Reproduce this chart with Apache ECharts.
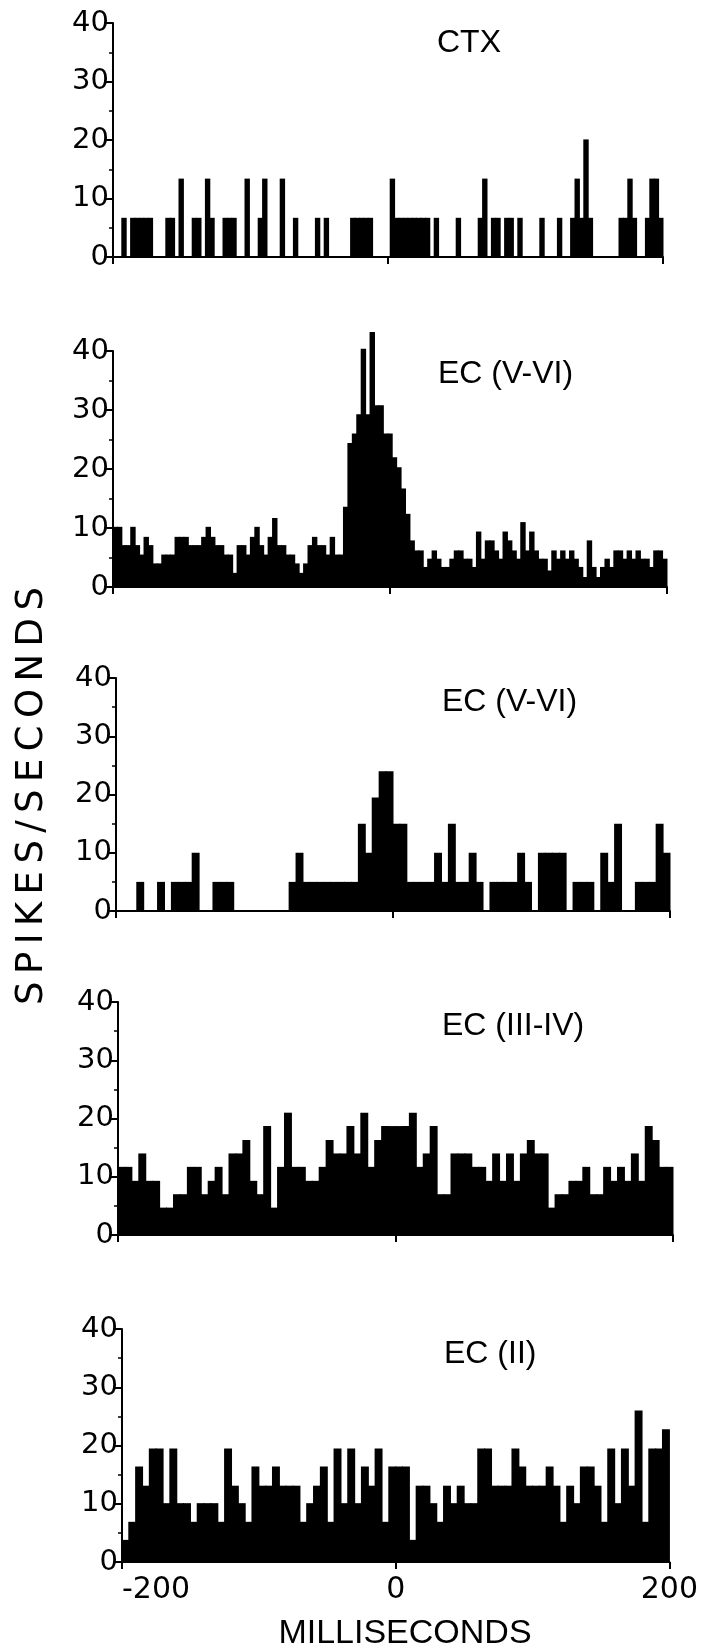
<!DOCTYPE html>
<html>
<head>
<meta charset="utf-8">
<style>
html, body { margin: 0; padding: 0; background: #fff; }
#chart { width: 701px; height: 1648px; }
</style>
<script src="https://cdn.jsdelivr.net/npm/echarts@6/dist/echarts.min.js"></script>
</head>
<body>
<div id="chart"></div>
<script>
var panelTitles = ["CTX", "EC (V-VI)", "EC (V-VI)", "EC (III-IV)", "EC (II)"];
var xTickLabels = ["-200", "0", "200"];
var yTickLabels = ["0", "10", "20", "30", "40"];
var xLabel = "MILLISECONDS";
var yLabel = "S\u2009P\u2009I\u2009K\u2009E\u2009S\u2009/\u2009S\u2009E\u2009C\u2009O\u2009N\u2009D\u2009S";

// spikes/s per bin, 125 bins from -200 to 200 ms
var ctx = [
  0, 0, 6.7, 0, 6.7, 6.7, 6.7, 6.7, 6.7, 0,
  0, 0, 6.7, 6.7, 0, 13.4, 0, 0, 6.7, 6.7,
  0, 13.4, 6.7, 0, 0, 6.7, 6.7, 6.7, 0, 0,
  13.4, 0, 0, 6.7, 13.4, 0, 0, 0, 13.4, 0,
  0, 6.7, 0, 0, 0, 0, 6.7, 0, 6.7, 0,
  0, 0, 0, 0, 6.7, 6.7, 6.7, 6.7, 6.7, 0,
  0, 0, 0, 13.4, 6.7, 6.7, 6.7, 6.7, 6.7, 6.7,
  6.7, 6.7, 0, 6.7, 0, 0, 0, 0, 6.7, 0,
  0, 0, 0, 6.7, 13.4, 0, 6.7, 6.7, 0, 6.7,
  6.7, 0, 6.7, 0, 0, 0, 0, 6.7, 0, 0,
  0, 6.7, 0, 0, 6.7, 13.4, 6.7, 20.1, 6.7, 0,
  0, 0, 0, 0, 0, 6.7, 6.7, 13.4, 6.7, 0,
  0, 6.7, 13.4, 13.4, 6.7
];

// 125 bins
var ecDeepA = [
  10.2, 10.2, 7.1, 7.1, 10.2, 7.1, 5.5, 8.5, 7.1, 4.0,
  4.0, 5.5, 5.5, 5.5, 8.5, 8.5, 8.5, 7.1, 7.1, 7.1,
  8.5, 10.2, 8.5, 7.1, 7.1, 5.5, 5.5, 2.4, 7.1, 7.1,
  5.5, 8.5, 10.2, 7.1, 5.5, 8.5, 11.7, 7.1, 7.1, 5.5,
  5.5, 4.0, 2.4, 4.0, 7.1, 8.5, 7.1, 7.1, 5.5, 8.5,
  5.5, 5.5, 13.6, 24.4, 26, 29.3, 40.4, 29.3, 43.2, 30.8,
  30.8, 26, 26, 22, 20.3, 16.7, 12.4, 7.9, 6.2, 6.2,
  3.4, 4.8, 6.2, 4.8, 3.4, 3.4, 4.8, 6.2, 6.2, 4.8,
  4.8, 3.4, 9.4, 4.8, 7.9, 7.9, 6.2, 4.8, 9.4, 7.9,
  6.2, 4.8, 11, 6.2, 9.4, 6.2, 4.8, 4.8, 2.8, 6.2,
  4.8, 6.2, 4.8, 6.2, 4.8, 3.4, 1.7, 7.9, 3.4, 1.7,
  3.4, 4.8, 3.4, 6.2, 6.2, 4.8, 6.2, 4.8, 6.2, 4.8,
  4.8, 3.4, 6.2, 6.2, 4.8
];

// 80 bins
var ecDeepB = [
  0, 0, 0, 5, 0, 0, 5, 0, 5, 5,
  5, 10, 0, 0, 5, 5, 5, 0, 0, 0,
  0, 0, 0, 0, 0, 5, 10, 5, 5, 5,
  5, 5, 5, 5, 5, 15, 10, 19.5, 24, 24,
  15, 15, 5, 5, 5, 5, 10, 5, 15, 5,
  5, 10, 5, 0, 5, 5, 5, 5, 10, 5,
  0, 10, 10, 10, 10, 0, 5, 5, 5, 0,
  10, 5, 15, 0, 0, 5, 5, 5, 15, 10
];

// 80 bins
var ecMid = [
  11.7, 11.7, 9.3, 14, 9.3, 9.3, 4.7, 4.7, 7, 7,
  11.7, 11.7, 7, 9.3, 11.7, 7, 14, 14, 16.3, 9.3,
  7, 18.7, 4.7, 11.7, 21, 11.7, 11.7, 9.3, 9.3, 11.7,
  16.3, 14, 14, 18.7, 14, 21, 11.7, 16.3, 18.7, 18.7,
  18.7, 18.7, 21, 11.7, 14, 18.7, 7, 7, 14, 14,
  14, 11.7, 11.7, 9.3, 14, 9.3, 14, 9.3, 14, 16.3,
  14, 14, 4.7, 7, 7, 9.3, 9.3, 11.7, 7, 7,
  11.7, 9.3, 11.7, 9.3, 14, 9.3, 18.7, 16.3, 11.7, 11.7
];

// 80 bins
var ecSup = [
  3.8, 6.9, 16.4, 13.1, 19.5, 19.5, 10.1, 19.5, 10.1, 10.1,
  6.9, 10.1, 10.1, 10.1, 6.9, 19.5, 13.1, 10.1, 6.9, 16.4,
  13.1, 13.1, 16.4, 13.1, 13.1, 13.1, 6.9, 10.1, 13.1, 16.4,
  6.9, 19.5, 10.1, 19.5, 10.1, 16.4, 13.1, 19.5, 6.9, 16.4,
  16.4, 16.4, 3.8, 13.1, 13.1, 10.1, 6.9, 13.1, 10.1, 13.1,
  10.1, 10.1, 19.5, 19.5, 13.1, 13.1, 13.1, 19.5, 16.4, 13.1,
  13.1, 13.1, 16.4, 13.1, 6.9, 13.1, 10.1, 16.4, 16.4, 13.1,
  6.9, 19.5, 10.1, 19.5, 13.1, 26, 6.9, 19.5, 19.5, 22.8
];

var panels = [ctx, ecDeepA, ecDeepB, ecMid, ecSup];

var boxes = [
  { left: 113, top: 23, width: 550, height: 234, titleX: 437, titleY: 43 },
  { left: 113, top: 351, width: 554, height: 236, titleX: 438, titleY: 374 },
  { left: 116, top: 678, width: 554, height: 233, titleX: 442, titleY: 702 },
  { left: 118, top: 1002, width: 555, height: 233, titleX: 442, titleY: 1026 },
  { left: 122, top: 1329, width: 555, height: 233, titleX: 444, titleY: 1354 }
];

var font = '"Liberation Sans", Arial, sans-serif';
var wideFont = '"DejaVu Sans", sans-serif';

function binCenters(n) {
  var out = [];
  for (var i = 0; i < n; i++) out.push((-200 + (i + 0.5) * 400 / n).toFixed(1));
  return out;
}

var chart = echarts.init(document.getElementById("chart"), null, { renderer: "canvas" });

var grid = [], xAxis = [], yAxis = [], series = [], graphic = [];
var black = { color: "#000", width: 2 };

for (var p = 0; p < panels.length; p++) {
  var b = boxes[p];
  grid.push({ left: b.left, top: b.top, width: b.width, height: b.height });

  xAxis.push({
    gridIndex: p, type: "category", data: binCenters(panels[p].length),
    position: "bottom", show: false, boundaryGap: true
  });
  xAxis.push({
    gridIndex: p, type: "value", min: -200, max: 200, interval: 200,
    position: "bottom",
    axisLine: { show: true, onZero: false, lineStyle: black },
    axisTick: { show: true, length: 7, lineStyle: black },
    splitLine: { show: false },
    axisLabel: {
      show: p === panels.length - 1, fontSize: 30, color: "#000",
      fontFamily: wideFont, margin: 13,
      alignMinLabel: "left",
      formatter: function (v) { return xTickLabels[(v + 200) / 200]; }
    }
  });

  yAxis.push({
    gridIndex: p, type: "value", min: 0, max: 40, interval: 10,
    axisLine: { show: true, onZero: false, lineStyle: black },
    axisTick: { show: true, length: 7, lineStyle: black },
    minorTick: { show: true, splitNumber: 2, length: 4, lineStyle: { color: "#000", width: 1.5 } },
    splitLine: { show: false },
    minorSplitLine: { show: false },
    axisLabel: {
      fontSize: 29, color: "#000", fontFamily: wideFont, margin: 4,
      formatter: function (v) { return yTickLabels[v / 10]; }
    }
  });

  // bars a touch wider than a bin so neighbours overlap and no seams show
  series.push({
    type: "bar", xAxisIndex: p * 2, yAxisIndex: p,
    data: panels[p], barGap: "0%", clip: false,
    barWidth: b.width / panels[p].length + 1,
    itemStyle: { color: "#000" },
    silent: true
  });

  graphic.push({
    type: "text", x: b.titleX, y: b.titleY,
    style: { text: panelTitles[p], font: "32px " + font, fill: "#000",
      textAlign: "left", textVerticalAlign: "middle" }
  });
}

graphic.push({
  type: "text", x: 405, y: 1634,
  style: { text: xLabel, font: "34px " + font, fill: "#000",
    textAlign: "center", textVerticalAlign: "middle" }
});
graphic.push({
  type: "text", x: 32, y: 796, rotation: Math.PI / 2,
  style: { text: yLabel, font: "37px " + wideFont, fill: "#000",
    textAlign: "center", textVerticalAlign: "middle" }
});

chart.setOption({
  animation: false,
  backgroundColor: "#fff",
  grid: grid,
  xAxis: xAxis,
  yAxis: yAxis,
  series: series,
  graphic: graphic
});

window.addEventListener("resize", function () {
  chart.resize();
});
</script>
</body>
</html>
